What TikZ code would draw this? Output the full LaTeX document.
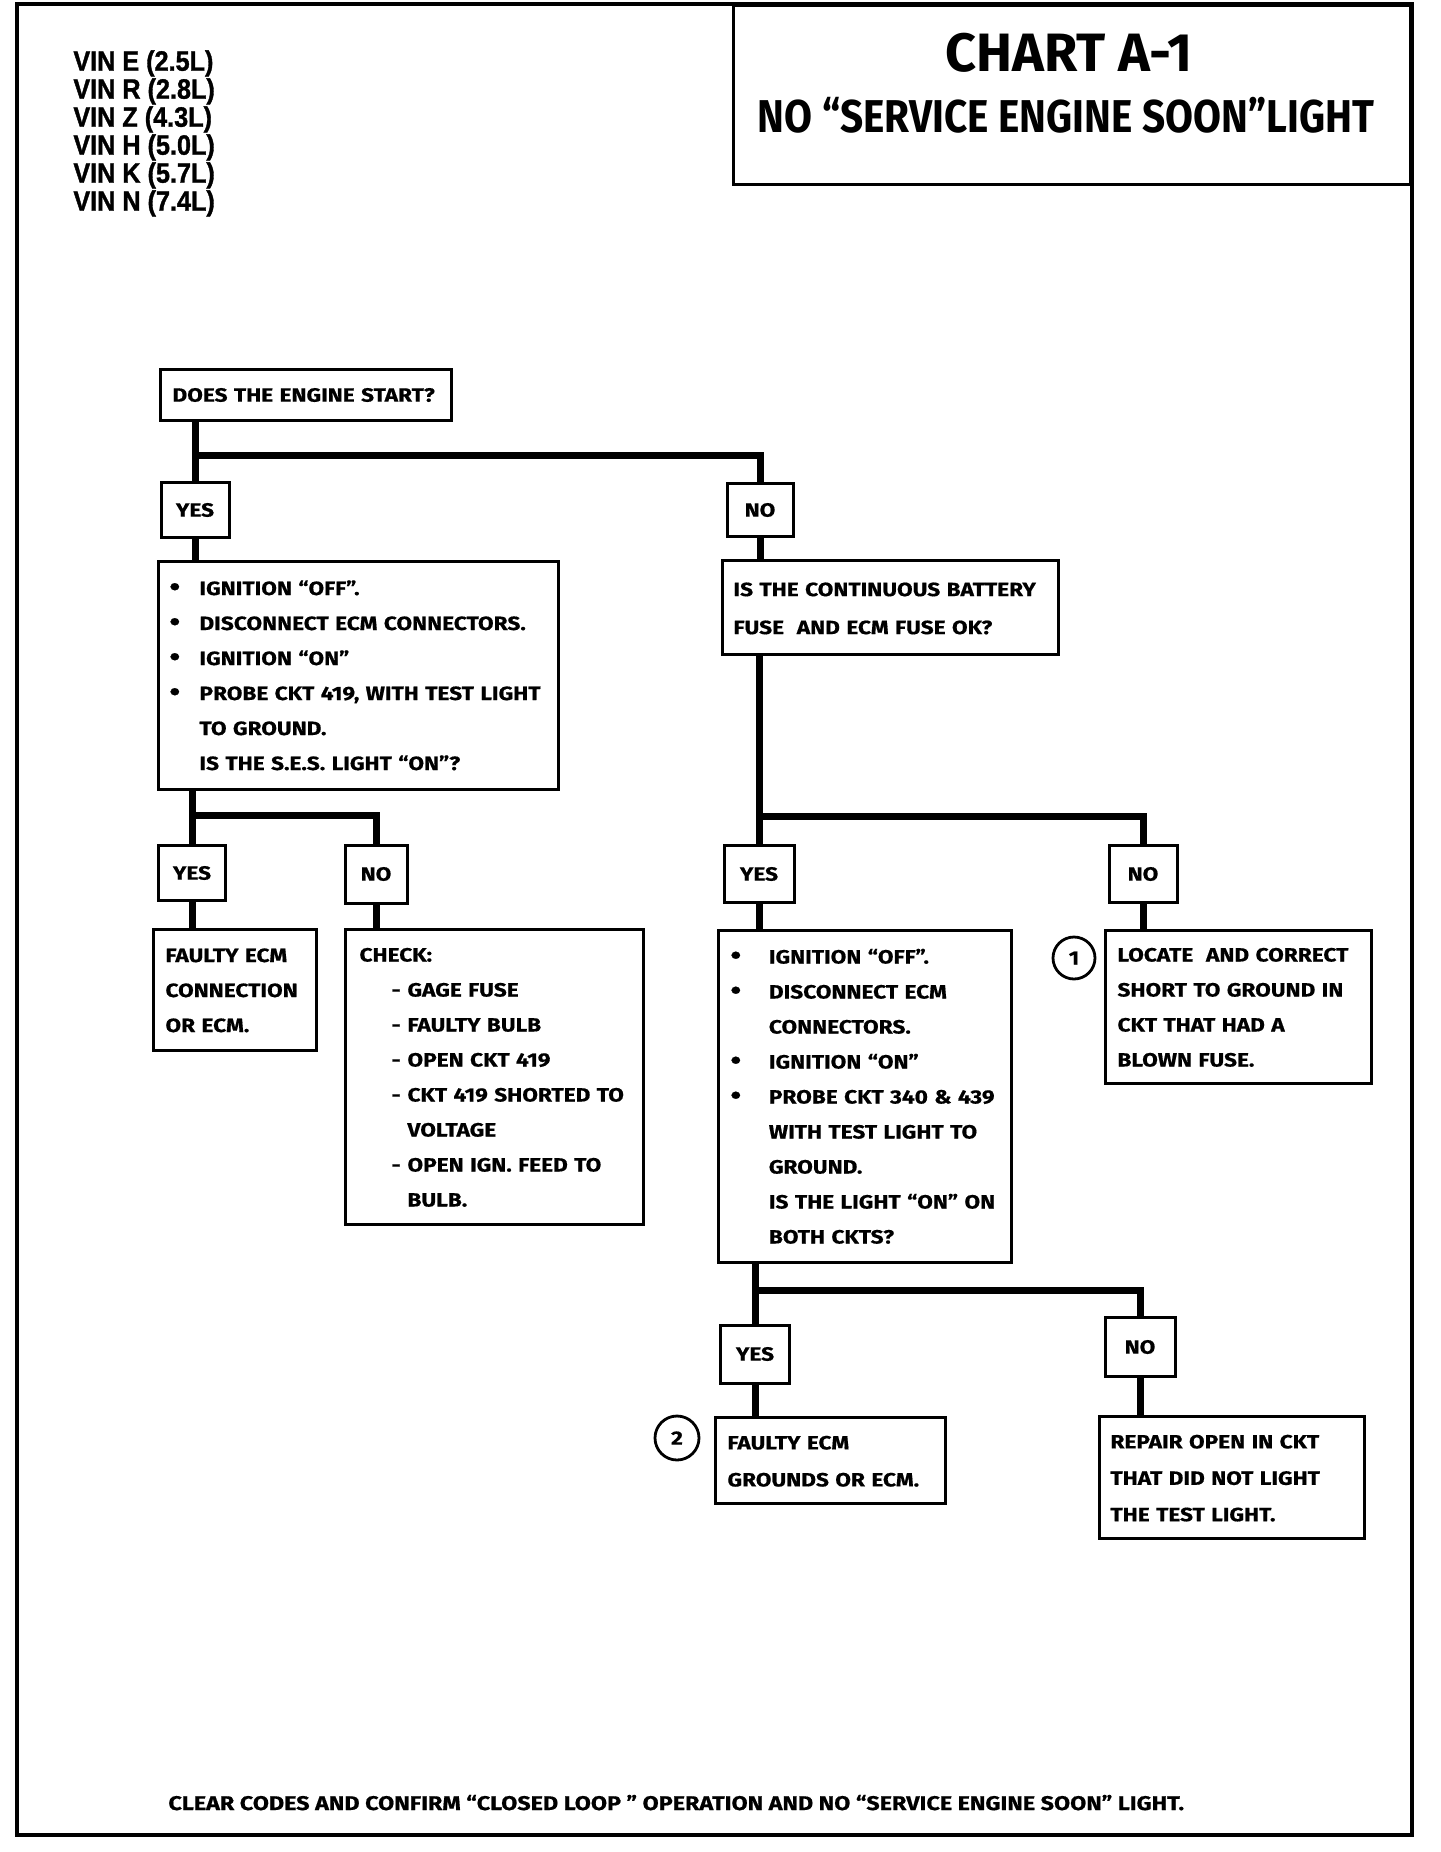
\documentclass[tikz,border=0pt]{standalone}
\usepackage{fontspec}
\newfontfamily\chartfont{Fira Sans}[UprightFont=* Bold, FakeStretch=1.18, FakeBold=0.6]
\newfontfamily\titlefontA{Fira Sans}[UprightFont=* Bold, FakeStretch=1.0]
\newfontfamily\titlefontB{Fira Sans}[UprightFont=* Bold, FakeStretch=0.88]
\newfontfamily\vinfont{Liberation Sans Bold}[FakeStretch=0.9, FakeBold=1.2]
\newcommand\cfs[1]{\chartfont\fontsize{9.6}{#1}\selectfont}
\newcommand\bu[1][15pt]{\makebox[#1][l]{\raisebox{-0.3pt}{\fontsize{13}{13}\selectfont\textbullet}}}
\newcommand\ind[1][15pt]{\hspace*{#1}}
\newcommand\dsh{\hspace*{16pt}\makebox[8pt][l]{-}}
\begin{document}
\begin{tikzpicture}[x=0.5pt,y=-0.5pt]
\tikzset{
  every node/.style={font=\cfs{17.5pt}},
  fbox/.style={draw,line width=1.5pt,anchor=north west,inner ysep=0pt,align=left},
  lbox/.style={draw,line width=1.5pt,inner sep=0pt,align=center},
  conn/.style={line width=3.5pt},
  num/.style={draw,circle,line width=1.4pt,inner sep=0pt,minimum size=21pt},
  frame/.style={line width=2.2pt},
}
\useasboundingbox (0,0) rectangle (1440,1852);
\fill[white] (0,0) rectangle (1440,1852);
\draw[frame] (17,4) rectangle (1412,1835);

% title
\node[draw,line width=1.7pt,anchor=north east,minimum width=338.5pt,minimum height=89.5pt,inner sep=0pt] (tbox) at (1412,4) {};
\node[font=\titlefontA\fontsize{27}{30}\selectfont] (t1) at (1069,53) {CHART A-1};
\node[font=\titlefontB\fontsize{23}{26}\selectfont] (t2) at (1066,115) {NO “SERVICE ENGINE SOON”LIGHT};

% VIN list
\node[anchor=north west,inner sep=0pt,align=left,font=\vinfont\fontsize{14}{14}\selectfont] (vin) at (73,50)
  {VIN E (2.5L)\\VIN R (2.8L)\\VIN Z (4.3L)\\VIN H (5.0L)\\VIN K (5.7L)\\VIN N (7.4L)};

% level 1
\node[fbox,minimum width=145.5pt,minimum height=25.5pt,text width=133.5pt,inner xsep=6pt] (q1) at (159,368) {DOES THE ENGINE START?};
\node[lbox,minimum width=34pt,minimum height=27.5pt] (y1) at (195,510) {YES};
\node[lbox,minimum width=33pt,minimum height=26.5pt] (n1) at (760,510) {NO};

% left branch
\node[fbox,minimum width=200pt,minimum height=114pt,text width=189pt,inner xsep=5.5pt] (a) at (157,560)
  {\begin{tabular}{@{}l@{}}\bu IGNITION “OFF”.\\ \bu DISCONNECT ECM CONNECTORS.\\ \bu IGNITION “ON”\\ \bu PROBE CKT 419, WITH TEST LIGHT\\ \ind TO GROUND.\\ \ind IS THE S.E.S. LIGHT “ON”?\end{tabular}};
\node[lbox,minimum width=33.5pt,minimum height=27.5pt] (y2) at (192,873) {YES};
\node[lbox,minimum width=31pt,minimum height=29pt] (n2) at (376,874) {NO};
\node[fbox,minimum width=81.5pt,minimum height=60.5pt,text width=69.5pt,inner xsep=6pt] (c1) at (152,928)
  {\begin{tabular}{@{}l@{}}FAULTY ECM\\ CONNECTION\\ OR ECM.\end{tabular}};
\node[fbox,minimum width=149pt,minimum height=147.5pt,text width=135pt,inner xsep=7pt] (c2) at (344,928)
  {\begin{tabular}{@{}l@{}}CHECK:\\ \dsh GAGE FUSE\\ \dsh FAULTY BULB\\ \dsh OPEN CKT 419\\ \dsh CKT 419 SHORTED TO\\ \hspace*{24pt}VOLTAGE\\ \dsh OPEN IGN. FEED TO\\ \hspace*{24pt}BULB.\end{tabular}};

% right branch
\node[fbox,minimum width=168pt,minimum height=47pt,text width=157pt,inner xsep=5.5pt,font=\cfs{19pt}] (q2) at (721,559)
  {\begin{tabular}{@{}l@{}}IS THE CONTINUOUS BATTERY\\ FUSE\ \ AND ECM FUSE OK?\end{tabular}};
\node[lbox,minimum width=35pt,minimum height=28.5pt] (y3) at (759,874) {YES};
\node[lbox,minimum width=34pt,minimum height=28.5pt] (n3) at (1143,874) {NO};
\node[fbox,minimum width=146.5pt,minimum height=166pt,text width=134.5pt,inner xsep=6pt] (d) at (717,929)
  {\begin{tabular}{@{}l@{}}\bu[16pt] IGNITION “OFF”.\\ \bu[16pt] DISCONNECT ECM\\ \ind[16pt] CONNECTORS.\\ \bu[16pt] IGNITION “ON”\\ \bu[16pt] PROBE CKT 340 \& 439\\ \ind[16pt] WITH TEST LIGHT TO\\ \ind[16pt] GROUND.\\ \ind[16pt] IS THE LIGHT “ON” ON\\ \ind[16pt] BOTH CKTS?\end{tabular}};
\node[fbox,minimum width=133pt,minimum height=76.5pt,text width=121pt,inner xsep=6pt] (e) at (1104,929)
  {\begin{tabular}{@{}l@{}}LOCATE\ \ AND CORRECT\\ SHORT TO GROUND IN\\ CKT THAT HAD A\\ BLOWN FUSE.\end{tabular}};
\node[num] (k1) at (1074,958) {1};
\node[lbox,minimum width=34.5pt,minimum height=29pt] (y4) at (755,1354) {YES};
\node[lbox,minimum width=35pt,minimum height=29.5pt] (n4) at (1140,1347) {NO};
\node[fbox,minimum width=115pt,minimum height=43pt,text width=103pt,inner xsep=6pt,font=\cfs{18.5pt}] (f) at (714,1416)
  {\begin{tabular}{@{}l@{}}FAULTY ECM\\ GROUNDS OR ECM.\end{tabular}};
\node[num,minimum size=22pt] (k2) at (677,1438) {2};
\node[fbox,minimum width=132.5pt,minimum height=61pt,text width=121.5pt,inner xsep=5.5pt,font=\cfs{18.2pt}] (g) at (1098,1415)
  {\begin{tabular}{@{}l@{}}REPAIR OPEN IN CKT\\ THAT DID NOT LIGHT\\ THE TEST LIGHT.\end{tabular}};

% footer
\node[anchor=base west,inner sep=0pt,font=\chartfont\fontsize{9.9}{12}\selectfont] (foot) at (168,1810)
  {CLEAR CODES AND CONFIRM “CLOSED LOOP ” OPERATION AND NO “SERVICE ENGINE SOON” LIGHT.};

% connectors
\coordinate (j1) at (0,455);
\coordinate (j2) at (0,815);
\coordinate (j3) at (0,816);
\coordinate (j4) at (0,1290);
\draw[conn] (q1.south -| y1) -- (y1.north);
\draw[conn] (y1 |- j1) -| (n1.north);
\draw[conn] (y1.south) -- (y1.south |- a.north);
\draw[conn] (n1.south) -- (n1.south |- q2.north);

\draw[conn] (a.south -| y2) -- (y2.north);
\draw[conn] (y2 |- j2) -| (n2.north);
\draw[conn] (y2.south) -- (y2.south |- c1.north);
\draw[conn] (n2.south) -- (n2.south |- c2.north);

\draw[conn] (q2.south -| y3) -- (y3.north);
\draw[conn] (y3 |- j3) -| (n3.north);
\draw[conn] (y3.south) -- (y3.south |- d.north);
\draw[conn] (n3.south) -- (n3.south |- e.north);

\draw[conn] (d.south -| y4) -- (y4.north);
\draw[conn] (y4 |- j4) -| (n4.north);
\draw[conn] (y4.south) -- (y4.south |- f.north);
\draw[conn] (n4.south) -- (n4.south |- g.north);
\end{tikzpicture}
\end{document}
